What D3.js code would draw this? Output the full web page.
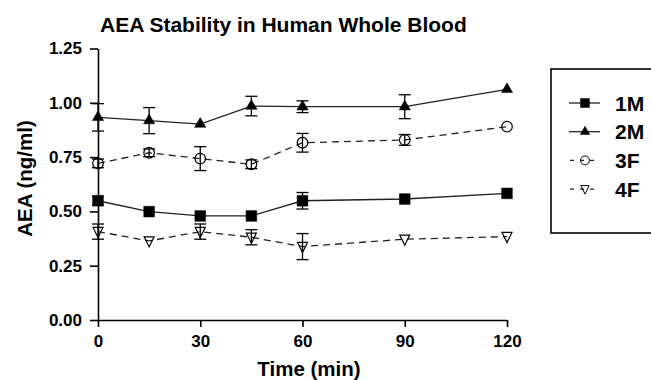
<!DOCTYPE html>
<html>
<head>
<meta charset="utf-8">
<script src="https://cdn.jsdelivr.net/npm/d3@7"></script>
<style>
  body { margin: 0; background: #fff; }
  text { font-family: "Liberation Sans", Arial, sans-serif; font-weight: bold; fill: #000; }
</style>
</head>
<body>
<div id="chart"></div>
<script>
// time points (min)
const times = [0, 15, 30, 45, 60, 90, 120];
const xTicks = [0, 30, 60, 90, 120];
const yTicks = [0, 0.25, 0.5, 0.75, 1.0, 1.25];

// mean AEA (ng/ml) and SEM per subject
const m1 = [0.549, 0.499, 0.479, 0.479, 0.549, 0.557, 0.583];
const m1Err = [0.02, 0.0, 0.0, 0.0, 0.038, 0.0, 0.0];
const m2 = [0.933, 0.918, 0.902, 0.985, 0.982, 0.982, 1.062];
const m2Err = [0.063, 0.06, 0.0, 0.045, 0.027, 0.055, 0.0];
const f3 = [0.721, 0.770, 0.743, 0.717, 0.816, 0.829, 0.890];
const f3Err = [0.02, 0.018, 0.055, 0.02, 0.043, 0.025, 0.0];
const f4 = [0.407, 0.364, 0.407, 0.381, 0.338, 0.372, 0.384];
const f4Err = [0.035, 0.0, 0.035, 0.035, 0.06, 0.0, 0.0];

const seriesNames = ["1M", "2M", "3F", "4F"];

const width = 651, height = 380;
const plotL = 98, plotR = 507, plotT = 48.5, plotB = 320;

const svg = d3.select("#chart").append("svg")
  .attr("width", width)
  .attr("height", height);

const x = d3.scaleLinear().domain([0, 120]).range([plotL, plotR]);
const y = d3.scaleLinear().domain([0, 1.25]).range([plotB, plotT]);

// axes
const xAxis = svg.append("g")
  .attr("transform", `translate(0,${plotB})`)
  .call(d3.axisBottom(x).tickValues(xTicks).tickSize(7).tickSizeOuter(0).tickPadding(8).tickFormat(d3.format("d")));
xAxis.selectAll("text").attr("font-size", 17).attr("font-family", null);
xAxis.selectAll("line, path").attr("stroke-width", 1.6);

const yAxis = svg.append("g")
  .attr("transform", `translate(${plotL},0)`)
  .call(d3.axisLeft(y).tickValues(yTicks).tickSize(8).tickSizeOuter(0).tickPadding(8).tickFormat(d3.format(".2f")));
yAxis.selectAll("text").attr("font-size", 17).attr("font-family", null);
yAxis.selectAll("line, path").attr("stroke-width", 1.6);

// titles
svg.append("text")
  .attr("x", 100).attr("y", 32)
  .attr("font-size", 21)
  .text("AEA Stability in Human Whole Blood");

svg.append("text")
  .attr("x", 309).attr("y", 376)
  .attr("text-anchor", "middle")
  .attr("font-size", 20.5)
  .text("Time (min)");

svg.append("text")
  .attr("transform", `translate(32,178.5) rotate(-90)`)
  .attr("text-anchor", "middle")
  .attr("font-size", 20.5)
  .text("AEA (ng/ml)");

// series
const series = [
  { name: seriesNames[0], vals: m1, err: m1Err, sym: d3.symbolSquare, size: 115, open: false, dash: null },
  { name: seriesNames[1], vals: m2, err: m2Err, sym: d3.symbolTriangle, size: 55, open: false, dash: null },
  { name: seriesNames[2], vals: f3, err: f3Err, sym: d3.symbolCircle, size: 88, open: true, dash: "7,5" },
  { name: seriesNames[3], vals: f4, err: f4Err, sym: "down", size: 75, open: true, dash: "7,5" }
];

function symPath(s, size) {
  if (s === "down") {
    const h = Math.sqrt(size) * 1.15, w = h;
    return `M${-w / 2},${-h / 2.4}L${w / 2},${-h / 2.4}L0,${h * 0.6}Z`;
  }
  return d3.symbol(s, size)();
}

const line = d3.line().x((d, i) => x(times[i])).y(d => y(d));

series.forEach(s => {
  const g = svg.append("g");
  g.append("path")
    .attr("d", line(s.vals))
    .attr("fill", "none")
    .attr("stroke", "#222")
    .attr("stroke-width", 1.3)
    .attr("stroke-dasharray", s.dash);

  // error bars
  const eb = g.selectAll(".eb")
    .data(s.vals.map((v, i) => ({ v, e: s.err[i], t: times[i] })).filter(d => d.e > 0))
    .enter().append("g");
  eb.append("line")
    .attr("x1", d => x(d.t)).attr("x2", d => x(d.t))
    .attr("y1", d => y(d.v - d.e)).attr("y2", d => y(d.v + d.e))
    .attr("stroke", "#000").attr("stroke-width", 1.3);
  [-1, 1].forEach(sgn => {
    eb.append("line")
      .attr("x1", d => x(d.t) - 6).attr("x2", d => x(d.t) + 6)
      .attr("y1", d => y(d.v + sgn * d.e)).attr("y2", d => y(d.v + sgn * d.e))
      .attr("stroke", "#000").attr("stroke-width", 1.3);
  });

  g.selectAll(".pt").data(s.vals).enter().append("path")
    .attr("transform", (d, i) => `translate(${x(times[i])},${y(d)})`)
    .attr("d", symPath(s.sym, s.size))
    .attr("fill", s.open ? "none" : "#000")
    .attr("stroke", "#000")
    .attr("stroke-width", s.open ? 1.2 : 0.5);
});

// legend
const lg = svg.append("g");
lg.append("rect")
  .attr("x", 551).attr("y", 69)
  .attr("width", 120).attr("height", 164)
  .attr("fill", "none").attr("stroke", "#000").attr("stroke-width", 1.6);

series.forEach((s, i) => {
  const cy = 103 + i * 28.7;
  lg.append("line")
    .attr("x1", 569).attr("x2", 600).attr("y1", cy).attr("y2", cy)
    .attr("stroke", "#222").attr("stroke-width", 1.3)
    .attr("stroke-dasharray", s.dash ? "4,6" : null)
    .attr("stroke-dashoffset", s.dash ? -1 : 0);
  lg.append("path")
    .attr("transform", `translate(585,${cy})`)
    .attr("d", symPath(s.sym, s.size * 0.7))
    .attr("fill", s.open ? "none" : "#000")
    .attr("stroke", "#000")
    .attr("stroke-width", s.open ? 1 : 0.5);
  lg.append("text")
    .attr("x", 615).attr("y", cy + 7.5)
    .attr("font-size", 21)
    .text(s.name);
});
</script>
</body>
</html>
